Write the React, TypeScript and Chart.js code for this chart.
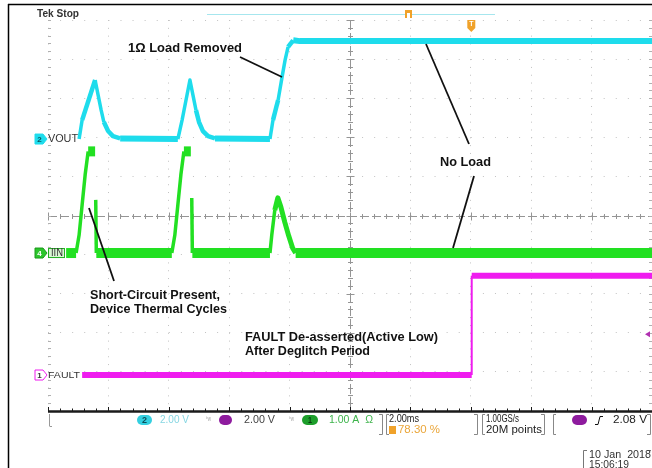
import React, { useEffect, useRef } from "react";
import { Chart, registerables } from "chart.js";

Chart.register(...registerables);

// ---- Time base: ms relative to trigger, 2 ms/div, 10 divisions ----
const timeMin = -14;
const timeMax = 6;
const timeStep = 2;

// ---- Channel settings: units/div and ground position (div from centre) ----
const voutPerDiv = 2; // V/div
const voutPosDiv = 1.93;
const iinPerDiv = 1; // A/div
const iinPosDiv = -0.96;
const faultPerDiv = 2; // V/div
const faultPosDiv = -4.08;
const triggerLevel = 2.08; // V on FAULT

// ---- CH2 VOUT (V) ----
const voutTime = [-12.97, -12.87, -12.44, -12.34, -12.24, -12.15, -12.01, -11.85, -11.61, -9.7, -9.56, -9.3, -9.2, -9.1, -9.0, -8.87, -8.7, -8.47, -6.65, -6.55, -6.38, -6.25, -6.15, -6.05, -5.88, -5.66, 6.0];
const voutVolts = [0.05, 1.02, 3.07, 2.3, 1.53, 0.92, 0.46, 0.2, 0.08, 0.05, 1.02, 3.07, 2.3, 1.53, 0.92, 0.46, 0.2, 0.08, 0.05, 1.02, 2.05, 3.22, 4.09, 4.76, 5.1, 5.06, 5.06];

// ---- CH4 IIN (A) ----
const iinTime = [-13.4, -13.07, -12.97, -12.87, -12.77, -12.67, -12.44, -12.43, -12.42, -12.4, -9.9, -9.8, -9.7, -9.6, -9.5, -9.27, -9.25, -9.24, -9.22, -6.65, -6.59, -6.49, -6.39, -6.29, -6.16, -6.03, -5.9, -5.8, 6.0];
const iinAmps = [0, 0, 0.46, 1.23, 2.0, 2.6, 2.6, null, 1.36, 0, 0, 0.46, 1.23, 2.0, 2.6, 2.6, null, 1.41, 0, 0, 0.46, 1.1, 1.41, 1.18, 0.79, 0.44, 0.13, 0, 0];

// ---- CH1 FAULT (V) ----
const faultTime = [-12.87, 0.03, 0.03, 6.0];
const faultVolts = [0, 0, 5.08, 5.08];

const CYAN = "#1edcec";
const GREEN = "#22e022";
const MAGENTA = "#ef1cef";
const PURPLE = "#8e1b9e";
const ORANGE = "#f0a22a";
const FONT = '"Liberation Sans", Arial, sans-serif';

const pts = (xs: number[], ys: (number | null)[]) => xs.map((x, i) => ({ x, y: ys[i] }));

const widthBy = (flat: number, mid: number, steep: number) => (c: any) => {
  const dx = Math.abs(c.p1.x - c.p0.x);
  const dy = Math.abs(c.p1.y - c.p0.y);
  const s = dy / (dx || 0.001);
  return s < 0.3 ? flat : s < 4.2 ? mid : steep;
};

function fitText(ctx: CanvasRenderingContext2D, text: string, x: number, y: number, width: number, font: string, color: string) {
  ctx.save();
  ctx.font = font;
  ctx.fillStyle = color;
  ctx.textBaseline = "middle";
  ctx.textAlign = "left";
  const w = ctx.measureText(text).width || 1;
  ctx.translate(x, y);
  ctx.scale(width / w, 1);
  ctx.fillText(text, 0, 0);
  ctx.restore();
}

function seg(ctx: CanvasRenderingContext2D, x1: number, y1: number, x2: number, y2: number) {
  ctx.beginPath();
  ctx.moveTo(x1, y1);
  ctx.lineTo(x2, y2);
  ctx.stroke();
}

function pill(ctx: CanvasRenderingContext2D, x: number, y: number, w: number, h: number, color: string) {
  const r = h / 2;
  ctx.beginPath();
  ctx.moveTo(x + r, y);
  ctx.lineTo(x + w - r, y);
  ctx.arc(x + w - r, y + r, r, -Math.PI / 2, Math.PI / 2);
  ctx.lineTo(x + r, y + h);
  ctx.arc(x + r, y + r, r, Math.PI / 2, (3 * Math.PI) / 2);
  ctx.closePath();
  ctx.fillStyle = color;
  ctx.fill();
}

function chanMarker(ctx: CanvasRenderingContext2D, x: number, y: number, fill: string, stroke: string, label: string, tc: string) {
  ctx.save();
  ctx.beginPath();
  ctx.moveTo(x, y - 5);
  ctx.lineTo(x + 8, y - 5);
  ctx.lineTo(x + 12, y);
  ctx.lineTo(x + 8, y + 5);
  ctx.lineTo(x, y + 5);
  ctx.closePath();
  ctx.fillStyle = fill;
  ctx.fill();
  ctx.strokeStyle = stroke;
  ctx.lineWidth = 1;
  ctx.stroke();
  ctx.fillStyle = tc;
  ctx.font = `bold 8px ${FONT}`;
  ctx.textAlign = "center";
  ctx.textBaseline = "middle";
  ctx.fillText(label, x + 4.5, y + 0.5);
  ctx.restore();
}

function bracket(ctx: CanvasRenderingContext2D, x: number, dir: number, y1 = 414, y2 = 434) {
  ctx.save();
  ctx.strokeStyle = "#888";
  ctx.lineWidth = 1;
  ctx.beginPath();
  ctx.moveTo(x + dir * 3, y1 + 0.5);
  ctx.lineTo(x + 0.5, y1 + 0.5);
  ctx.lineTo(x + 0.5, y2 + 0.5);
  ctx.lineTo(x + dir * 3, y2 + 0.5);
  ctx.stroke();
  ctx.restore();
}

const scopeOverlay = {
  id: "scopeOverlay",
  beforeDatasetsDraw(chart: any) {
    const { ctx, chartArea: a, scales } = chart;
    const xs = scales.x;
    const gs = scales.g;
    const cx = Math.round(xs.getPixelForValue((timeMin + timeMax) / 2)) + 0.5;
    const cy = Math.round(gs.getPixelForValue(0)) + 0.5;
    const dX = (a.right - a.left) / 10;
    const dY = (a.bottom - a.top) / 10;
    ctx.save();
    ctx.strokeStyle = "#959595";
    ctx.lineWidth = 1;
    ctx.setLineDash([10, 3]);
    seg(ctx, cx, a.top, cx, a.bottom);
    ctx.setLineDash([9, 3]);
    seg(ctx, a.left, cy, a.right, cy);
    ctx.setLineDash([]);
    for (let i = 0; i <= 50; i++) {
      const y = Math.round(a.top + (i * dY) / 5) + 0.5;
      const l = i % 5 === 0 ? 4 : 2.5;
      seg(ctx, cx - l, y, cx + l, y);
      const x = Math.round(a.left + (i * dX) / 5) + 0.5;
      seg(ctx, x, cy - l, x, cy + l);
    }
    ctx.strokeStyle = "#b0b0b0";
    for (let i = 0; i <= 50; i++) {
      const y = Math.round(a.top + (i * dY) / 5) + 0.5;
      seg(ctx, a.left, y, a.left + 3, y);
      seg(ctx, a.right - 3, y, a.right, y);
    }
    ctx.restore();
  },
  afterDatasetsDraw(chart: any) {
    const { ctx, chartArea: a, scales } = chart;
    const xs = scales.x;
    const dX = (a.right - a.left) / 10;
    ctx.save();

    // outer frame lines
    ctx.strokeStyle = "#000";
    ctx.lineWidth = 1.5;
    seg(ctx, 8, 4.5, 652, 4.5);
    seg(ctx, 8.5, 4, 8.5, 468);

    // bottom heavy line with ticks
    ctx.strokeStyle = "#1a1a1a";
    ctx.lineWidth = 2.5;
    seg(ctx, a.left, a.bottom + 0.5, a.right, a.bottom + 0.5);
    ctx.lineWidth = 1;
    for (let i = 0; i <= 50; i++) {
      const x = Math.round(a.left + (i * dX) / 5) + 0.5;
      seg(ctx, x, a.bottom - (i % 5 === 0 ? 4 : 2.5), x, a.bottom);
    }

    // header
    fitText(ctx, "Tek Stop", 37, 14, 42, `bold 10px ${FONT}`, "#333");
    ctx.strokeStyle = "#a6e6ee";
    ctx.lineWidth = 1;
    seg(ctx, 207, 14.5, 495, 14.5);
    ctx.fillStyle = ORANGE;
    ctx.fillRect(405, 10, 7, 8);
    ctx.fillStyle = "#fff";
    ctx.fillRect(407, 13, 3, 5);
    const tx = xs.getPixelForValue(0);
    ctx.fillStyle = ORANGE;
    ctx.fillRect(tx - 3.5, 20, 8, 8);
    ctx.beginPath();
    ctx.moveTo(tx - 3.5, 28);
    ctx.lineTo(tx + 4.5, 28);
    ctx.lineTo(tx + 0.5, 32);
    ctx.closePath();
    ctx.fill();
    ctx.fillStyle = "#fff";
    ctx.font = `bold 7px ${FONT}`;
    ctx.textAlign = "center";
    ctx.textBaseline = "middle";
    ctx.fillText("T", tx + 0.5, 24.5);

    // channel ground markers
    const yv = scales.yv.getPixelForValue(0);
    const yi = scales.yi.getPixelForValue(0);
    const yf = scales.yf.getPixelForValue(0);
    chanMarker(ctx, 35, yv - 1, CYAN, CYAN, "2", "#0b5560");
    fitText(ctx, "VOUT", 48, yv - 1, 30, `10px ${FONT}`, "#333");
    chanMarker(ctx, 35, yi, "#2cc52c", "#1a9a1a", "4", "#fff");
    ctx.fillStyle = "#d9f7d3";
    ctx.fillRect(48, yi - 5, 17, 10);
    ctx.strokeStyle = "#22b022";
    ctx.strokeRect(48.5, yi - 4.5, 16, 9);
    fitText(ctx, "IIN", 51, yi, 12, `10px ${FONT}`, "#333");
    chanMarker(ctx, 35, yf, "#fff", MAGENTA, "1", "#333");
    fitText(ctx, "FAULT", 48, yf, 32, `9px ${FONT}`, "#333");

    // trigger level arrow (right edge)
    const yt = scales.yf.getPixelForValue(triggerLevel);
    ctx.fillStyle = "#b030b0";
    ctx.beginPath();
    ctx.moveTo(645, yt);
    ctx.lineTo(650, yt - 3);
    ctx.lineTo(650, yt + 3);
    ctx.closePath();
    ctx.fill();

    // annotations
    const af = `bold 13.5px ${FONT}`;
    fitText(ctx, "1Ω Load Removed", 128, 48, 114, af, "#111");
    fitText(ctx, "No Load", 440, 162, 51, af, "#111");
    fitText(ctx, "Short-Circuit Present,", 90, 295, 130, af, "#111");
    fitText(ctx, "Device Thermal Cycles", 90, 309, 137, af, "#111");
    fitText(ctx, "FAULT De-asserted(Active Low)", 245, 337, 193, af, "#111");
    fitText(ctx, "After Deglitch Period", 245, 351, 125, af, "#111");
    ctx.strokeStyle = "#111";
    ctx.lineWidth = 1.8;
    seg(ctx, 240, 57, 282, 77);
    seg(ctx, 426, 44, 469, 144);
    seg(ctx, 474, 176, 453, 248);
    seg(ctx, 89, 208, 114, 281);

    // bottom status bar
    const sf = `10px ${FONT}`;
    ctx.strokeStyle = "#999";
    ctx.lineWidth = 1;
    seg(ctx, 49.5, 414, 49.5, 426);
    seg(ctx, 49.5, 426.5, 52, 426.5);
    pill(ctx, 137, 415, 15, 10, "#33cfe0");
    fitText(ctx, "2", 142, 420.5, 5, `bold 9px ${FONT}`, "#0c4f5a");
    fitText(ctx, "2.00 V", 160, 420.5, 29, sf, "#86d6e2");
    fitText(ctx, "ᵇw", 206, 419, 5, `7px ${FONT}`, "#aaa");
    pill(ctx, 219, 415, 13, 10, PURPLE);
    fitText(ctx, "2.00 V", 244, 420.5, 31, sf, "#444");
    fitText(ctx, "ᵇw", 289, 419, 5, `7px ${FONT}`, "#aaa");
    pill(ctx, 302, 415, 16, 10, "#1d9e2b");
    fitText(ctx, "1", 308, 420.5, 4, `bold 9px ${FONT}`, "#0a3d10");
    fitText(ctx, "1.00 A  Ω", 329, 420.5, 44, sf, "#3cb34a");
    bracket(ctx, 382, -1);
    bracket(ctx, 386, 1);
    fitText(ctx, "2.00ms", 389, 419.5, 30, sf, "#222");
    ctx.fillStyle = ORANGE;
    ctx.fillRect(389, 426, 7, 8);
    fitText(ctx, "78.30 %", 398, 430, 42, sf, "#eaa63a");
    bracket(ctx, 477, -1);
    bracket(ctx, 482, 1);
    fitText(ctx, "1.00GS/s", 486, 419.5, 33, sf, "#222");
    fitText(ctx, "20M points", 486, 430.5, 56, sf, "#222");
    bracket(ctx, 544, -1);
    bracket(ctx, 553, 1);
    pill(ctx, 572, 415, 15, 10, PURPLE);
    ctx.strokeStyle = "#111";
    ctx.lineWidth = 1;
    ctx.beginPath();
    ctx.moveTo(595, 424.5);
    ctx.lineTo(598, 424.5);
    ctx.lineTo(600, 416.5);
    ctx.lineTo(603, 416.5);
    ctx.stroke();
    fitText(ctx, "2.08 V", 613, 420.5, 34, sf, "#222");
    bracket(ctx, 650, -1);

    // date box
    ctx.strokeStyle = "#777";
    ctx.beginPath();
    ctx.moveTo(587, 450.5);
    ctx.lineTo(583.5, 450.5);
    ctx.lineTo(583.5, 468);
    ctx.stroke();
    seg(ctx, 647, 450.5, 651, 450.5);
    fitText(ctx, "10 Jan  2018", 589, 455, 62, sf, "#333");
    fitText(ctx, "15:06:19", 589, 465, 40, sf, "#333");

    ctx.restore();
  },
};

export default function App() {
  const ref = useRef<HTMLCanvasElement>(null);
  useEffect(() => {
    const canvas = ref.current;
    if (!canvas) return;
    const gridColor = "#c2c2c2";
    const chart = new Chart(canvas, {
      type: "line",
      data: {
        datasets: [
          {
            label: "FAULT",
            data: pts(faultTime, faultVolts),
            yAxisID: "yf",
            borderColor: MAGENTA,
            borderWidth: 6,
            pointRadius: 0,
            segment: { borderWidth: widthBy(6, 6, 2) },
          },
          {
            label: "IIN",
            data: pts(iinTime, iinAmps),
            yAxisID: "yi",
            borderColor: GREEN,
            borderWidth: 10,
            pointRadius: 0,
            borderJoinStyle: "round",
            segment: { borderWidth: widthBy(10, 5, 3.5) },
          },
          {
            label: "VOUT",
            data: pts(voutTime, voutVolts),
            yAxisID: "yv",
            borderColor: CYAN,
            borderWidth: 6,
            pointRadius: 0,
            borderJoinStyle: "round",
            segment: { borderWidth: widthBy(6, 4.5, 3.5) },
          },
        ] as any,
      },
      options: {
        animation: false,
        responsive: false,
        devicePixelRatio: 1,
        events: [],
        layout: { padding: { left: 48, top: 20, right: 0, bottom: 57 } },
        plugins: { legend: { display: false }, tooltip: { enabled: false } },
        elements: { line: { tension: 0 } },
        scales: {
          x: {
            type: "linear",
            min: timeMin,
            max: timeMax,
            ticks: { display: false, stepSize: timeStep },
            grid: { color: gridColor, drawTicks: false, lineWidth: 1 },
            border: { display: false, dash: [1, 6.82] },
          },
          g: {
            type: "linear",
            position: "left",
            min: -5,
            max: 5,
            ticks: { display: false, stepSize: 1 },
            grid: { color: gridColor, drawTicks: false, lineWidth: 1 },
            border: { display: false, dash: [1, 11.08] },
          },
          yv: { type: "linear", display: false, min: (-5 - voutPosDiv) * voutPerDiv, max: (5 - voutPosDiv) * voutPerDiv },
          yi: { type: "linear", display: false, min: (-5 - iinPosDiv) * iinPerDiv, max: (5 - iinPosDiv) * iinPerDiv },
          yf: { type: "linear", display: false, min: (-5 - faultPosDiv) * faultPerDiv, max: (5 - faultPosDiv) * faultPerDiv },
        },
      } as any,
      plugins: [scopeOverlay],
    });
    return () => chart.destroy();
  }, []);
  return (
    <div style={{ position: "fixed", left: 0, top: 0, width: 652, height: 468, background: "#fff" }}>
      <canvas ref={ref} width={652} height={468} style={{ width: 652, height: 468, display: "block" }} />
    </div>
  );
}
